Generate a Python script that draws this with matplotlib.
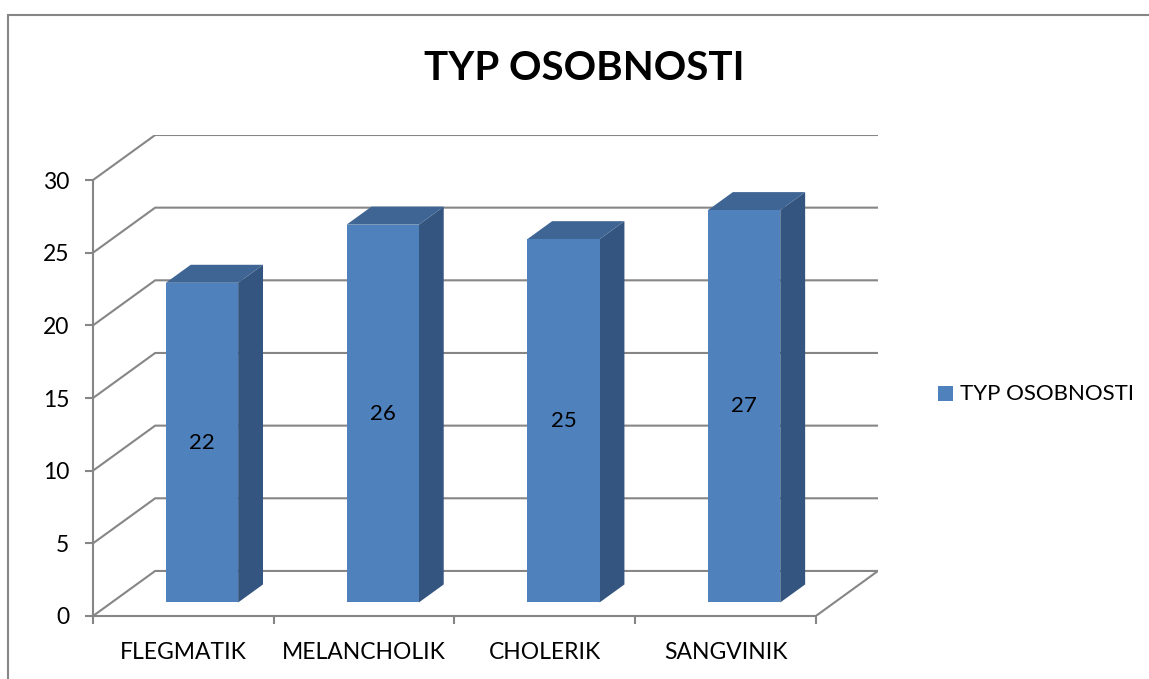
import matplotlib.pyplot as plt
from matplotlib.patches import Polygon, Rectangle

plt.rcParams['font.family'] = ['Lato', 'DejaVu Sans']

categories = ['FLEGMATIK', 'MELANCHOLIK', 'CHOLERIK', 'SANGVINIK']
values = [22, 26, 25, 27]
series_name = 'TYP OSOBNOSTI'
yticks = [0, 5, 10, 15, 20, 25, 30]

# pseudo-3D depth offset (full depth) in data units
DX = 0.344
DY = 3.1
BAR_W = 0.4
D0, D1 = 0.3, 0.7

front_c = '#4F81BD'
side_c = '#34557F'
top_c = '#3E6594'
grid_c = '#868686'

fig = plt.figure(figsize=(11.49, 6.79), dpi=100)
fig.patches.append(Rectangle((8 / 1149, -0.1), 1.2, 1 - 15 / 679 + 0.1,
                             transform=fig.transFigure, fill=False,
                             edgecolor=grid_c, lw=1.5))

ax = fig.add_axes([93 / 1149, 1 - 616 / 679, (878 - 93) / 1149, (616 - 135) / 679])
n = len(categories)
ax.set_xlim(0, n + DX)
ax.set_ylim(0, yticks[-1] + DY)

# walls: gridlines running along the left wall and back wall
for v in yticks:
    ax.plot([0, DX, n + DX], [v, v + DY, v + DY], color=grid_c, lw=1.5,
            solid_capstyle='butt', zorder=1)
# floor right edge
ax.plot([n, n + DX], [0, DY], color=grid_c, lw=1.5, zorder=1)

for i, v in enumerate(values):
    x0 = i + (1 - BAR_W) / 2 + D0 * DX
    x1 = x0 + BAR_W
    y0 = D0 * DY
    ddx = (D1 - D0) * DX
    ddy = (D1 - D0) * DY
    top = v + y0
    ax.add_patch(Polygon([(x1, y0), (x1 + ddx, y0 + ddy), (x1 + ddx, top + ddy), (x1, top)],
                         closed=True, facecolor=side_c, edgecolor='none', zorder=3))
    ax.add_patch(Polygon([(x0, top), (x1, top), (x1 + ddx, top + ddy), (x0 + ddx, top + ddy)],
                         closed=True, facecolor=top_c, edgecolor='none', zorder=3))
    ax.add_patch(Rectangle((x0, y0), BAR_W, v, facecolor=front_c, edgecolor='none', zorder=4))
    ax.text((x0 + x1) / 2, y0 + v / 2, str(v), ha='center', va='center',
            fontsize=16, color='black', zorder=5)

for s in ['top', 'right']:
    ax.spines[s].set_visible(False)
ax.spines['left'].set_bounds(0, yticks[-1])
ax.spines['bottom'].set_bounds(0, n)
for s in ['left', 'bottom']:
    ax.spines[s].set_color(grid_c)
    ax.spines[s].set_linewidth(1.5)

ax.set_yticks(yticks)
ax.set_yticklabels([str(t) for t in yticks])
ax.set_xticks(range(n + 1))
ax.set_xticklabels([''] * (n + 1))
ax.set_xticks([i + 0.5 for i in range(n)], minor=True)
ax.set_xticklabels(categories, minor=True)
ax.tick_params(axis='both', which='major', color=grid_c, width=1.5, length=6,
               labelsize=16.5, direction='out')
ax.tick_params(axis='x', which='minor', length=0, labelsize=16.5, pad=19)
ax.tick_params(axis='y', pad=11)
ax.set_facecolor('none')

fig.text(584 / 1149, 1 - 68 / 679, series_name, ha='center', va='center',
         fontsize=29, fontweight='bold')

fig.patches.append(Rectangle((938 / 1149, 1 - 401 / 679), 15 / 1149, 15 / 679,
                             transform=fig.transFigure, facecolor=front_c, edgecolor='none'))
fig.text(960 / 1149, 1 - 394 / 679, series_name, ha='left', va='center', fontsize=16)

fig.savefig('out.png', dpi=100)
